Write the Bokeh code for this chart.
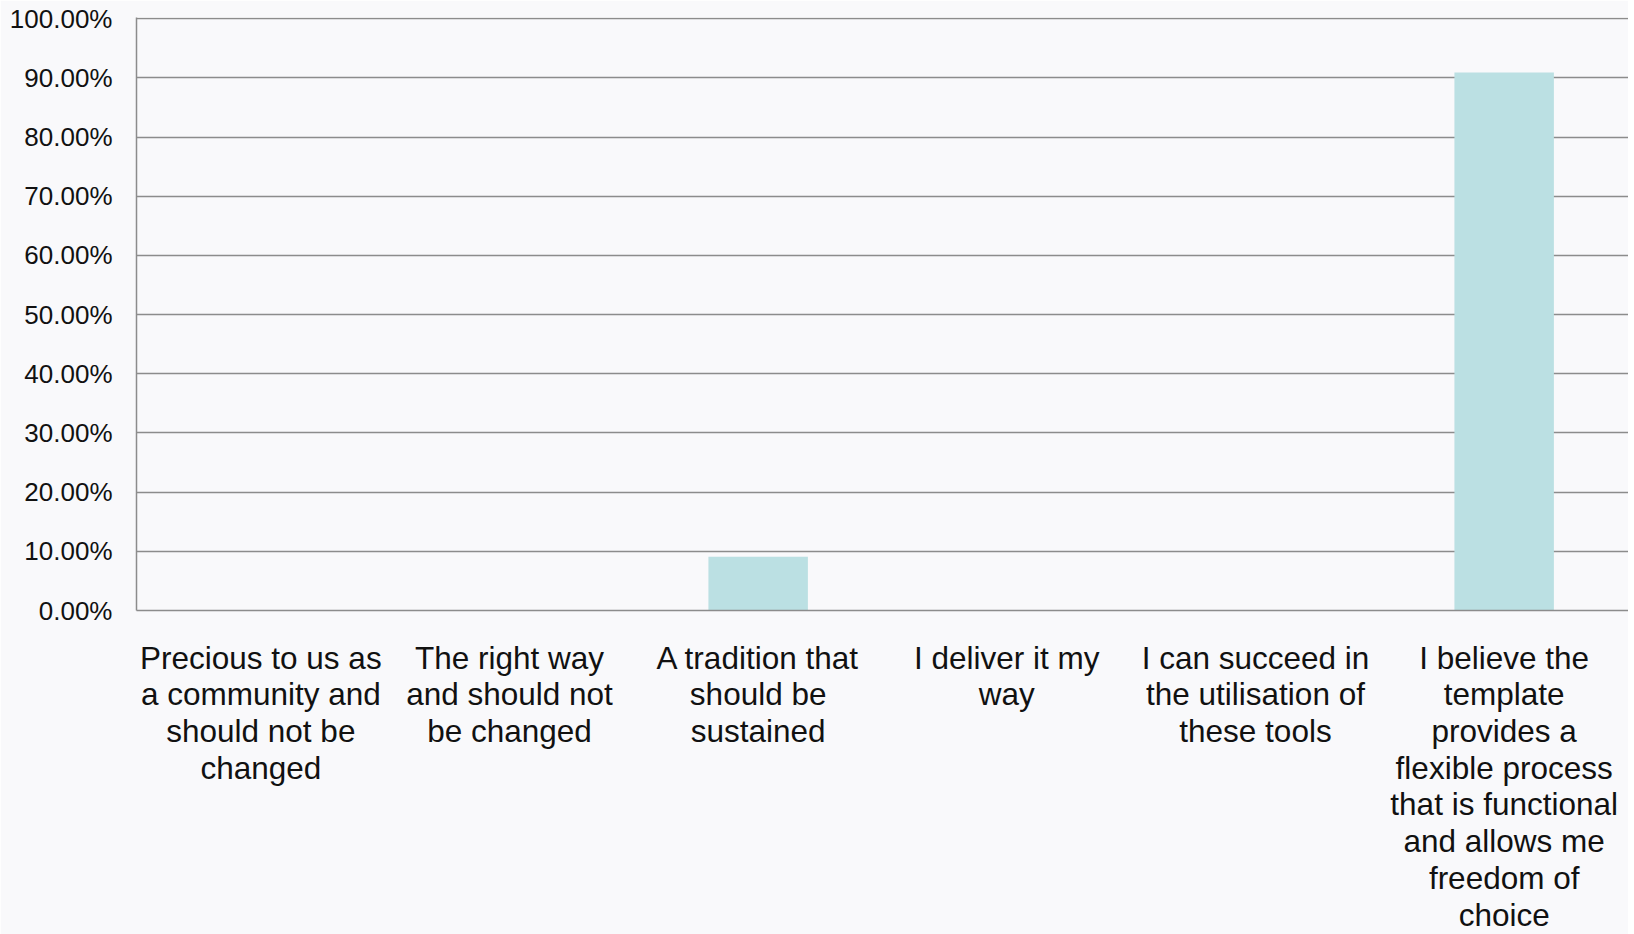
from bokeh.plotting import figure
from bokeh.models import NumeralTickFormatter, FixedTicker, Range1d
from bokeh.embed import file_html
from bokeh.resources import INLINE

categories = [
    "Precious to us as\na community and\nshould not be\nchanged",
    "The right way\nand should not\nbe changed",
    "A tradition that\nshould be\nsustained",
    "I deliver it my\nway",
    "I can succeed in\nthe utilisation of\nthese tools",
    "I believe the\ntemplate\nprovides a\nflexible process\nthat is functional\nand allows me\nfreedom of\nchoice",
]
values = [0.0, 0.0, 0.0909, 0.0, 0.0, 0.9091]
y_ticks = [i / 10 for i in range(11)]

bg = "#f9f9fb"
p = figure(
    x_range=categories,
    y_range=Range1d(0, 1.002),
    frame_width=1492,
    frame_height=593,
    min_border_left=136,
    min_border_top=17,
    min_border_right=0,
    min_border_bottom=0,
    output_backend="svg",
    toolbar_location=None,
    background_fill_color=bg,
    border_fill_color=bg,
)
p.outline_line_color = None

p.vbar(x=categories, top=values, width=0.4, fill_color="#bbe0e3", line_color=None)

p.xgrid.grid_line_color = None
p.ygrid.grid_line_color = "#8c8c8c"
p.ygrid.grid_line_width = 1.5
p.ygrid.ticker = FixedTicker(ticks=y_ticks)

p.yaxis.ticker = FixedTicker(ticks=y_ticks)
p.yaxis.formatter = NumeralTickFormatter(format="0.00%")
p.yaxis.major_label_text_font = "Liberation Sans"
p.yaxis.major_label_text_font_size = "26px"
p.yaxis.major_label_text_color = "#111111"
p.yaxis.major_label_standoff = 18
p.yaxis.major_tick_line_color = None
p.yaxis.minor_tick_line_color = None
p.yaxis.axis_line_color = "#8c8c8c"
p.yaxis.axis_line_width = 1.5

p.xaxis.major_label_text_font = "Liberation Sans"
p.xaxis.major_label_text_font_size = "31.5px"
p.xaxis.major_label_text_color = "#111111"
p.xaxis.major_label_text_line_height = 1.02
p.xaxis.major_label_standoff = 23
p.xaxis.major_tick_line_color = None
p.xaxis.minor_tick_line_color = None
p.xaxis.axis_line_color = "#8c8c8c"
p.xaxis.axis_line_width = 1.5

open("out.html", "w").write(file_html(p, INLINE))
